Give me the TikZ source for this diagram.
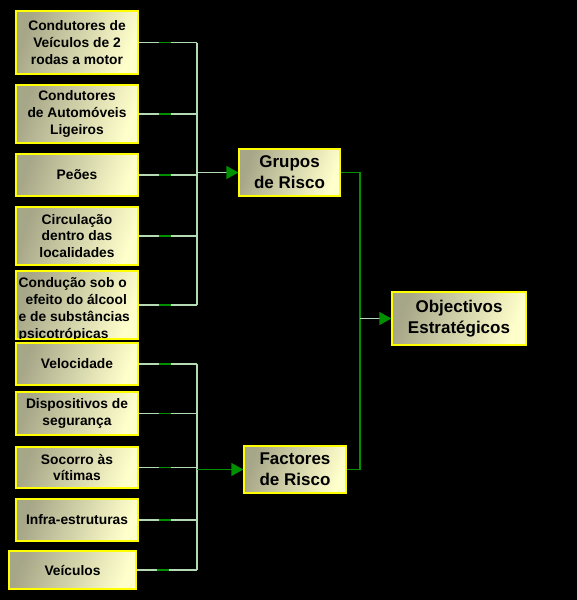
\documentclass[tikz,border=0pt]{standalone}
\usepackage{fontspec}
\setmainfont{Liberation Sans}
\usetikzlibrary{arrows.meta}
\definecolor{boxdark}{HTML}{A6A688}
\definecolor{boxlight}{HTML}{FFFFCC}
\definecolor{boxedge}{HTML}{FFFF00}
\definecolor{lg}{HTML}{B4DAB4}
\definecolor{dg}{HTML}{009000}
\begin{document}
\begin{tikzpicture}[x=1pt,y=-1pt,
  box/.style={draw=boxedge, line width=1.3pt, left color=boxdark, right color=boxlight,
    shading angle=70, inner sep=0pt, align=center, text=black},
  smalltxt/.style={font=\bfseries\fontsize{13.8}{16.8}\selectfont},
  bigtxt/.style={font=\bfseries\fontsize{17}{21}\selectfont},
  branch/.style={draw=lg, line width=1.3pt,
    postaction={draw=dg, line width=1.3pt, dash pattern=on 0pt off 20pt on 12pt off 200pt}},
  bus/.style={draw=lg, line width=1.3pt},
  rline/.style={draw=dg, line width=1.2pt},
  arr/.style={draw=lg, line width=1.3pt, -{Triangle[length=12pt,width=13pt,color=dg]}},
  arrd/.style={draw=dg, line width=1.3pt, -{Triangle[length=12pt,width=13pt,color=dg]}}]
\fill[black] (0,0) rectangle (577,600);
\useasboundingbox (0,0) rectangle (577,600);

% left boxes, upper group
\node[box,smalltxt,minimum width=122pt,minimum height=63pt] (b1) at (77,42.5)
  {Condutores de\\Veículos de 2\\rodas a motor};
\node[box,smalltxt,minimum width=122pt,minimum height=58pt] (b2) at (77,114)
  {Condutores\\de Automóveis\\Ligeiros};
\node[box,smalltxt,minimum width=122pt,minimum height=42pt] (b3) at (77,175) {Peões};
\node[box,smalltxt,minimum width=122pt,minimum height=58pt] (b4) at (77,236)
  {Circulação\\dentro das\\localidades};
\node[box,smalltxt,minimum width=122pt,minimum height=68pt] (b5) at (77,305) {};
\begin{scope}
  \clip (16,271) rectangle (138,338.5);
  \node[smalltxt,anchor=north west,inner sep=0pt,align=left,text=black] (b5t) at (18.5,277.5)
    {Condução sob o\\\hspace{7pt}efeito do álcool\\e de substâncias\\psicotrópicas};
\end{scope}
\draw[boxedge,line width=1.3pt] (b5.south west) rectangle (b5.north east);

% left boxes, lower group
\node[box,smalltxt,minimum width=122pt,minimum height=42pt] (b6) at (77,364) {Velocidade};
\node[box,smalltxt,minimum width=122pt,minimum height=43pt] (b7) at (77,413.5)
  {Dispositivos de\\segurança};
\node[box,smalltxt,minimum width=122pt,minimum height=41pt] (b8) at (77,467.5)
  {Socorro às\\vítimas};
\node[box,smalltxt,minimum width=122pt,minimum height=42pt] (b9) at (77,520) {Infra-estruturas};
\node[box,smalltxt,minimum width=127pt,minimum height=38pt] (b10) at (72.5,570) {Veículos};

% middle and right boxes
\node[box,bigtxt,minimum width=101pt,minimum height=47pt] (gr) at (289.5,172.5) {Grupos\\de Risco};
\node[box,bigtxt,minimum width=102pt,minimum height=47pt] (fr) at (295,469.5) {Factores\\de Risco};
\node[box,bigtxt,minimum width=134pt,minimum height=53pt] (ob) at (459,318.5) {Objectivos\\Estratégicos};

\coordinate (busA) at (197,0);
\coordinate (busC) at (360,0);

% upper connectors
\foreach \n in {b1,b2,b3,b4,b5} \draw[branch] (\n.east) -- (\n.east -| busA);
\draw[bus] (b1.east -| busA) -- (b5.east -| busA);
\draw[arr] (gr.west -| busA) -- (gr.west);

% lower connectors
\foreach \n in {b6,b7,b8,b9,b10} \draw[branch] (\n.east) -- (\n.east -| busA);
\draw[bus] (b6.east -| busA) -- (b10.east -| busA);
\draw[arrd] (fr.west -| busA) -- (fr.west);

% right connectors
\draw[rline] (gr.east) -| (fr.east -| busC) -- (fr.east);
\draw[arr] (ob.west -| busC) -- (ob.west);
\end{tikzpicture}
\end{document}
